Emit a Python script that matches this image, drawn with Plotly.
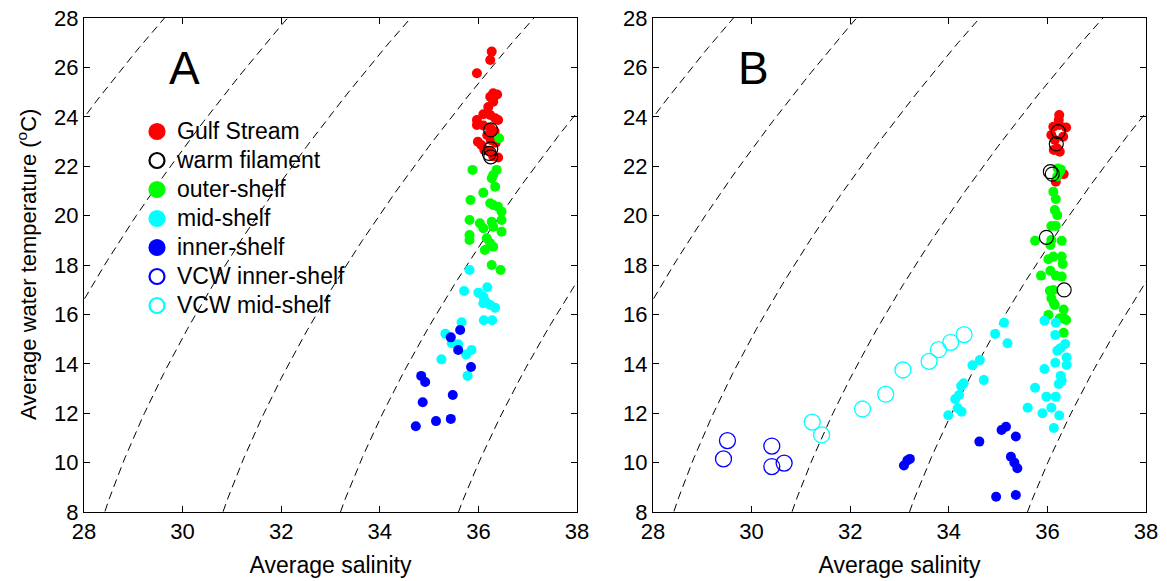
import numpy as np
import plotly.graph_objects as go

# ---------------- data (salinity, temperature) ----------------
# Panel A
gs_A_S = [36.27, 36.24, 35.97, 36.30, 36.38, 36.24, 36.30, 36.20, 36.10, 36.24, 36.34, 36.40, 35.97, 35.97,
          36.10, 36.24, 36.33, 35.99, 36.06, 36.12, 36.25, 36.35, 36.22, 36.30, 36.40, 36.18, 36.30]
gs_A_T = [26.64, 26.30, 25.76, 24.95, 24.90, 24.81, 24.61, 24.40, 24.10, 24.07, 23.94, 23.87, 23.87, 23.67,
          23.65, 23.55, 23.40, 22.99, 22.86, 22.66, 23.06, 22.95, 22.60, 22.40, 22.35, 23.25, 24.75]
wf_A_S = [36.25, 36.25, 36.22, 36.25]
wf_A_T = [23.47, 22.70, 22.52, 22.38]
outer_A_S = [36.42, 35.88, 36.37, 36.30, 36.27, 36.34, 36.10, 35.84, 36.24, 36.30, 36.40, 36.47, 36.47, 35.82,
             36.03, 36.10, 36.27, 36.30, 36.47, 35.82, 35.82, 36.17, 36.24, 36.30, 36.13, 36.27, 36.45]
outer_A_T = [23.13, 21.85, 21.85, 21.64, 21.51, 21.17, 20.93, 20.63, 20.50, 20.43, 20.36, 20.16, 19.82, 19.82,
             19.69, 19.49, 19.75, 19.55, 19.35, 19.21, 19.01, 19.08, 18.88, 18.74, 18.61, 18.00, 17.80]
mid_A_S = [35.82, 35.71, 36.18, 36.00, 36.10, 36.15, 36.24, 36.34, 36.10, 36.11, 36.28, 35.66, 35.33, 35.46,
           35.59, 35.86, 35.75, 35.25, 35.78]
mid_A_T = [17.80, 16.95, 17.10, 16.88, 16.72, 16.51, 16.38, 16.27, 16.45, 15.76, 15.76, 15.68, 15.22, 14.83,
           14.79, 14.56, 14.38, 14.18, 13.51]
inner_A_S = [35.63, 35.44, 35.59, 35.85, 34.84, 34.92, 35.48, 34.87, 35.44, 35.14, 34.73]
inner_A_T = [15.37, 15.07, 14.56, 13.87, 13.51, 13.26, 12.74, 12.44, 11.77, 11.68, 11.47]

# Panel B
gs_B_S = [36.24, 36.23, 36.24, 36.12, 36.38, 36.08, 36.15, 36.32, 36.20, 36.13, 36.25, 36.17, 36.33]
gs_B_T = [24.07, 23.87, 23.67, 23.60, 23.57, 23.26, 23.06, 23.19, 22.72, 22.66, 22.59, 21.37, 21.68]
wf_B_S = [36.22, 36.18, 36.06, 36.10, 35.98, 36.34]
wf_B_T = [23.40, 22.90, 21.78, 21.68, 19.12, 16.99]
outer_B_S = [36.21, 36.25, 36.20, 36.27, 36.12, 36.17, 36.15, 36.20, 36.08, 36.17, 35.75, 36.08, 36.29, 36.06,
             36.29, 36.31, 36.12, 36.02, 35.87, 36.06, 36.17, 36.29, 36.05, 36.12, 36.08, 36.13, 36.33, 36.02,
             36.33, 36.38, 36.33, 36.15, 36.25]
outer_B_T = [21.91, 21.78, 21.58, 21.87, 20.97, 20.67, 20.23, 20.02, 19.58, 19.58, 18.98, 19.01, 18.98, 18.81,
             18.34, 18.04, 18.34, 18.23, 17.57, 17.77, 17.57, 17.53, 16.96, 16.99, 16.65, 16.45, 16.20, 15.98,
             15.84, 15.77, 15.26, 16.38, 15.84]
mid_B_S = [35.12, 34.94, 35.19, 34.48, 34.63, 34.71, 34.30, 34.25, 34.21, 34.13, 34.18, 34.26, 33.99, 35.94,
           36.17, 36.16, 36.36, 36.26, 36.20, 36.39, 36.39, 36.16, 35.94, 36.27, 36.29, 36.23, 35.75, 35.98,
           36.17, 35.60, 36.08, 35.90, 36.24, 36.13]
mid_B_T = [15.66, 15.21, 14.83, 13.94, 14.15, 13.34, 13.21, 13.10, 12.74, 12.57, 12.20, 12.06, 11.92, 15.74,
           15.66, 15.17, 14.80, 14.63, 14.53, 14.26, 13.95, 14.04, 13.79, 13.51, 13.32, 13.18, 13.03, 12.67,
           12.67, 12.22, 12.22, 12.00, 11.91, 11.40]
inner_B_S = [33.09, 33.16, 33.21, 34.62, 35.07, 35.16, 35.36, 35.26, 35.33, 35.39, 34.96, 35.36]
inner_B_T = [9.88, 10.09, 10.15, 10.85, 11.32, 11.45, 11.06, 10.24, 10.00, 9.77, 8.62, 8.69]
vcw_inner_B_S = [29.51, 29.43, 30.41, 30.41, 30.66]
vcw_inner_B_T = [10.89, 10.15, 10.67, 9.84, 9.98]
vcw_mid_B_S = [31.23, 31.42, 32.25, 32.72, 33.07, 33.60, 33.79, 34.04, 34.31]
vcw_mid_B_T = [11.64, 11.12, 12.17, 12.77, 13.75, 14.10, 14.57, 14.87, 15.18]

# isopycnal (sigma-t) contour levels
sigma_levels = [18.36, 20.24, 22.11, 23.99, 25.86, 27.74]

x_ticks = [28, 30, 32, 34, 36, 38]
y_ticks = [8, 10, 12, 14, 16, 18, 20, 22, 24, 26, 28]
legend_names = ["Gulf Stream", "warm filament", "outer-shelf", "mid-shelf", "inner-shelf",
                "VCW inner-shelf", "VCW mid-shelf"]


# ---------------- UNESCO (EOS-80) surface density ----------------
def sigma_t(S, T):
    rw = (999.842594 + 6.793952e-2 * T - 9.095290e-3 * T ** 2 + 1.001685e-4 * T ** 3
          - 1.120083e-6 * T ** 4 + 6.536332e-9 * T ** 5)
    A = 8.24493e-1 - 4.0899e-3 * T + 7.6438e-5 * T ** 2 - 8.2467e-7 * T ** 3 + 5.3875e-9 * T ** 4
    B = -5.72466e-3 + 1.0227e-4 * T - 1.6546e-6 * T ** 2
    C = 4.8314e-4
    return rw + A * S + B * S ** 1.5 + C * S ** 2 - 1000.0


def isopycnal(level, T):
    lo = np.full_like(T, 0.0)
    hi = np.full_like(T, 50.0)
    for _ in range(60):
        mid = 0.5 * (lo + hi)
        f = sigma_t(mid, T) - level
        lo = np.where(f < 0, mid, lo)
        hi = np.where(f >= 0, mid, hi)
    return 0.5 * (lo + hi)


T_grid = np.linspace(5, 31, 131)

FONT = "Liberation Sans, Arial, sans-serif"
RED, GREEN, CYAN, BLUE = "#FF0000", "#00FF00", "#00FFFF", "#0000FF"

fig = go.Figure()

for xa, ya in [("x", "y"), ("x2", "y2")]:
    for lev in sigma_levels:
        fig.add_trace(go.Scatter(x=isopycnal(lev, T_grid), y=T_grid, mode="lines", xaxis=xa, yaxis=ya,
                                 line=dict(color="black", width=1, dash="8px,5px"),
                                 showlegend=False, hoverinfo="skip"))


def filled(S, T, color, xa, ya):
    fig.add_trace(go.Scatter(x=S, y=T, mode="markers", xaxis=xa, yaxis=ya, showlegend=False,
                             marker=dict(symbol="circle", size=10, color=color, line=dict(width=0))))


def opened(S, T, color, xa, ya, size=15, lw=1.3):
    fig.add_trace(go.Scatter(x=S, y=T, mode="markers", xaxis=xa, yaxis=ya, showlegend=False,
                             marker=dict(symbol="circle-open", size=size, color=color,
                                         line=dict(width=lw, color=color))))


# Panel A
filled(gs_A_S, gs_A_T, RED, "x", "y")
filled(outer_A_S, outer_A_T, GREEN, "x", "y")
filled(mid_A_S, mid_A_T, CYAN, "x", "y")
filled(inner_A_S, inner_A_T, BLUE, "x", "y")
opened(wf_A_S, wf_A_T, "black", "x", "y", size=14, lw=1.2)

# Panel B
filled(gs_B_S, gs_B_T, RED, "x2", "y2")
filled(outer_B_S, outer_B_T, GREEN, "x2", "y2")
filled(mid_B_S, mid_B_T, CYAN, "x2", "y2")
filled(inner_B_S, inner_B_T, BLUE, "x2", "y2")
opened(wf_B_S, wf_B_T, "black", "x2", "y2", size=14, lw=1.2)
opened(vcw_inner_B_S, vcw_inner_B_T, BLUE, "x2", "y2", size=16, lw=1.3)
opened(vcw_mid_B_S, vcw_mid_B_T, CYAN, "x2", "y2", size=16, lw=1.3)

# legend-only entries
legend_styles = [("circle", RED), ("circle-open", "black"), ("circle", GREEN), ("circle", CYAN),
                 ("circle", BLUE), ("circle-open", BLUE), ("circle-open", CYAN)]
for name, (sym, col) in zip(legend_names, legend_styles):
    fig.add_trace(go.Scatter(x=[None], y=[None], mode="markers",
                             name='<span style="font-size:23px">' + name + '</span>',
                             xaxis="x", yaxis="y",
                             marker=dict(symbol=sym, size=15, color=col, line=dict(width=2.2, color=col)),
                             showlegend=True))

axis_common = dict(range=[28, 38], tickvals=x_ticks, ticks="inside", ticklen=6, tickcolor="black",
                   showline=True, linecolor="black", linewidth=1, mirror="ticks", showgrid=False,
                   zeroline=False, automargin=False, tickfont=dict(size=22, color="black", family=FONT))
yaxis_common = dict(range=[8, 28], tickvals=y_ticks, ticks="inside", ticklen=6, tickcolor="black",
                    showline=True, linecolor="black", linewidth=1, mirror="ticks", showgrid=False,
                    zeroline=False, automargin=False, tickfont=dict(size=22, color="black", family=FONT))

fig.update_layout(
    template="none",
    width=1167, height=581,
    margin=dict(l=0, r=0, t=0, b=0, autoexpand=False),
    paper_bgcolor="white", plot_bgcolor="white",
    font=dict(family=FONT, color="black"),
    xaxis=dict(**axis_common, domain=[84 / 1167, 577 / 1167], anchor="y",
               title=dict(text="Average salinity", font=dict(size=23), standoff=13)),
    yaxis=dict(**yaxis_common, domain=[1 - 512 / 581, 1 - 18 / 581], anchor="x"),
    xaxis2=dict(**axis_common, domain=[653 / 1167, 1146 / 1167], anchor="y2",
                title=dict(text="Average salinity", font=dict(size=23), standoff=13)),
    yaxis2=dict(**yaxis_common, domain=[1 - 512 / 581, 1 - 18 / 581], anchor="x2"),
    legend=dict(x=137 / 1167, y=1 - 112 / 581, xanchor="left", yanchor="top",
                bgcolor="rgba(0,0,0,0)", borderwidth=0, font=dict(size=20, color="black", family=FONT),
                itemsizing="trace", tracegroupgap=0),
    annotations=[
        dict(text="Average water temperature (<sup>o</sup>C)", x=27 / 1167, y=1 - 265 / 581,
             xref="paper", yref="paper", showarrow=False, textangle=-90,
             xanchor="center", yanchor="middle", font=dict(size=22, color="black", family=FONT)),
        dict(text="A", x=184 / 1167, y=1 - 68 / 581, xref="paper", yref="paper", showarrow=False,
             xanchor="center", yanchor="middle",
             font=dict(size=46, color="black", family=FONT)),
        dict(text="B", x=753 / 1167, y=1 - 68 / 581, xref="paper", yref="paper", showarrow=False,
             xanchor="center", yanchor="middle",
             font=dict(size=46, color="black", family=FONT)),
    ],
)

fig.write_html("out.html")
